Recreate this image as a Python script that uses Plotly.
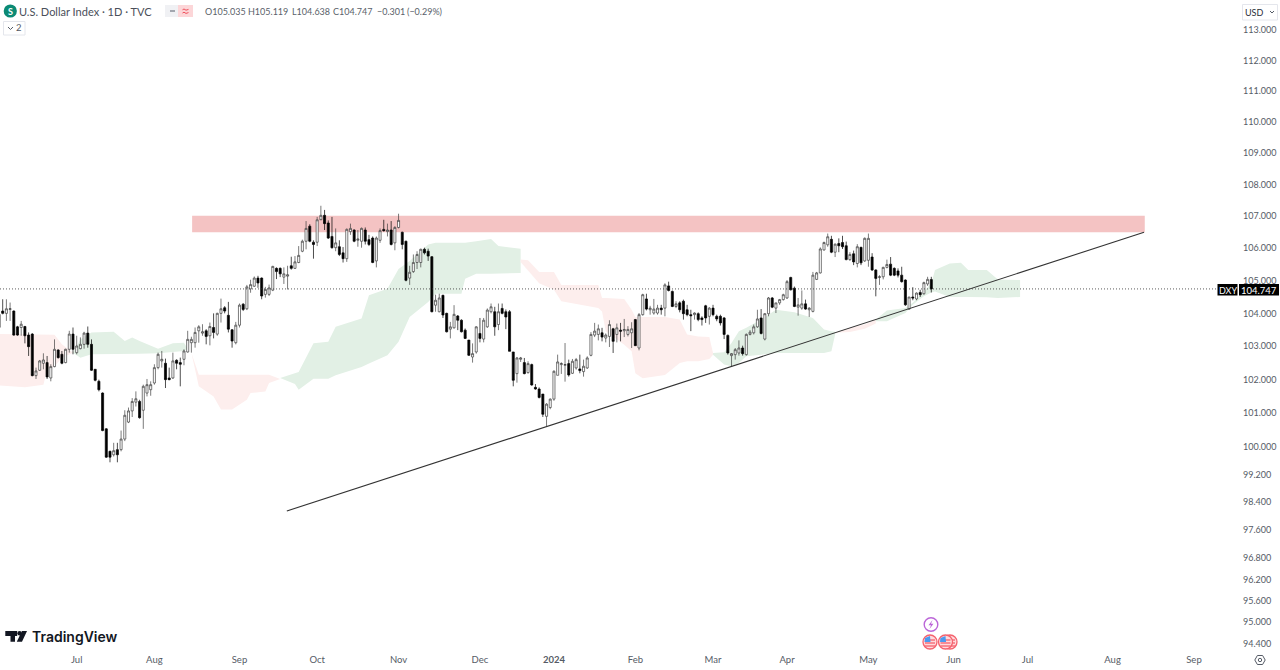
import math
import pandas as pd
import plotly.graph_objects as go

# daily bars, first one is 2 Jun 2023 (partly off the left edge)
opens = [103.97,
    104.07,104.00,104.12,104.07,103.59,103.57,103.60,103.34,103.37,
    102.12,102.28,102.49,102.51,102.05,102.39,102.89,102.76,102.51,102.91,103.37,
    102.81,102.93,103.06,103.40,103.06,102.31,101.95,101.60,100.54,99.88,
    99.78,99.93,99.93,100.24,100.74,101.07,101.33,101.35,101.09,101.60,
    101.70,101.90,102.36,102.56,102.49,102.05,102.05,102.58,102.51,102.61,
    102.83,103.11,103.11,103.47,103.40,103.47,103.32,103.57,103.37,104.00,
    104.17,103.94,103.50,103.11,103.64,104.28,104.14,104.75,104.83,105.08,
    105.08,104.58,104.58,104.71,105.38,105.38,105.11,105.14,105.46,105.38,
    105.56,105.91,106.22,106.69,106.19,106.19,106.89,107.03,106.79,106.37,
    106.02,106.05,105.86,105.68,106.52,106.57,106.25,106.22,106.57,106.27,
    106.32,105.61,106.25,106.59,106.52,106.57,106.17,106.65,106.50,106.22,
    105.08,105.28,105.56,105.56,105.97,105.91,105.74,104.25,104.05,104.55,
    104.00,103.52,103.56,103.92,103.79,103.49,103.19,102.68,102.83,103.39,
    103.22,103.59,104.05,104.05,103.66,104.15,104.05,104.05,102.83,102.18,
    102.61,102.51,102.21,102.45,101.77,101.72,101.57,100.91,101.17,101.42,
    102.13,102.45,102.43,102.48,102.19,102.35,102.32,102.24,102.35,102.73,
    103.34,103.36,103.41,103.25,103.30,103.53,103.36,103.49,103.47,103.36,
    103.41,103.81,102.95,103.96,104.44,104.11,104.01,104.01,104.16,104.16,
    104.84,104.67,104.21,104.32,104.37,104.11,103.96,103.96,103.99,103.86,
    104.23,103.91,104.16,103.91,103.91,103.86,103.33,102.72,102.75,102.80,
    102.95,102.75,103.36,103.41,103.59,103.86,103.22,103.99,104.47,104.16,
    104.32,104.42,104.47,105.10,104.77,104.19,104.16,104.29,104.11,104.06,
    105.04,105.24,105.95,106.11,106.28,105.88,106.15,106.18,106.08,105.65,
    105.83,105.53,106.03,105.61,105.63,105.73,105.33,105.10,105.12,105.41,
    105.51,105.38,105.30,105.17,105.02,104.13,104.50,104.44,104.64,104.60,
    104.90,105.035]
highs = [104.02,
    104.43,104.43,104.33,104.09,103.62,103.77,103.62,103.42,103.40,
    102.36,102.59,102.79,102.71,102.46,103.21,102.91,102.86,102.93,103.47,103.57,
    103.32,103.27,103.44,103.60,103.21,102.31,102.00,101.62,100.56,99.90,
    100.13,100.13,100.49,101.09,101.17,101.45,101.65,101.40,101.85,102.02,
    101.95,102.46,102.81,102.86,102.63,102.36,102.81,102.61,102.66,102.91,
    103.47,103.29,103.57,103.64,103.67,103.52,103.72,104.00,104.02,104.45,
    104.22,104.35,103.52,103.74,104.30,104.31,104.87,105.03,105.13,105.15,
    105.10,104.81,104.88,105.46,105.41,105.41,105.41,105.46,105.74,105.76,
    106.07,106.27,106.85,106.75,106.25,106.98,107.33,107.20,106.87,106.98,
    106.62,106.25,106.04,106.62,106.77,106.59,106.57,106.65,106.65,106.42,
    106.37,106.37,106.62,106.89,106.77,106.85,106.69,107.08,106.52,106.24,
    105.46,105.81,105.91,105.99,106.02,105.99,105.76,104.57,104.60,104.57,
    104.02,103.74,104.25,103.95,103.82,103.54,103.19,103.09,103.61,103.86,
    103.86,104.15,104.30,104.20,104.30,104.30,104.12,104.10,102.83,102.68,
    102.68,102.65,102.55,102.48,101.87,101.77,101.57,101.30,101.44,102.28,
    102.75,102.52,103.10,102.60,102.62,102.65,102.75,102.60,102.70,103.43,
    103.71,103.66,103.56,103.39,103.79,103.56,103.69,103.71,103.83,103.61,
    103.73,103.83,104.01,104.60,104.60,104.23,104.44,104.26,104.26,104.92,
    104.97,104.70,104.37,104.37,104.42,104.26,104.11,104.03,104.03,103.91,
    104.26,104.19,104.26,103.96,103.96,103.89,103.36,102.80,102.95,103.18,
    103.02,103.39,103.49,103.66,104.11,104.13,104.01,104.50,104.50,104.32,
    104.44,104.60,105.02,105.12,104.82,104.47,104.70,104.42,104.19,105.27,
    105.27,106.03,106.21,106.46,106.39,106.15,106.31,106.39,106.21,105.88,
    105.93,106.13,106.05,106.34,106.46,105.85,105.35,105.17,105.43,105.65,
    105.73,105.41,105.38,105.43,105.04,104.50,104.80,104.64,104.72,104.97,
    105.12,105.119]
lows = [103.54,
    103.97,103.77,103.77,103.32,103.32,103.32,103.09,102.71,102.10,
    102.02,102.26,102.31,102.02,101.95,102.37,102.63,102.46,102.49,102.81,102.76,
    102.76,102.91,102.93,102.96,102.26,101.95,101.65,100.47,99.69,99.56,
    99.73,99.56,99.88,100.18,100.71,100.89,101.20,100.84,100.54,101.50,
    101.52,101.85,102.31,102.36,101.75,101.98,102.02,102.31,101.80,102.43,
    102.81,102.81,102.96,103.11,103.32,103.06,103.03,103.24,103.32,103.72,
    104.00,103.42,102.96,103.06,103.57,104.07,104.10,104.63,104.81,104.78,
    104.43,104.48,104.53,104.68,105.05,105.11,104.90,104.73,105.34,105.36,
    105.54,105.88,105.97,106.19,105.68,106.07,106.92,106.57,106.29,105.99,
    105.91,105.76,105.56,105.58,106.42,106.19,106.05,106.02,106.12,106.07,
    105.54,105.41,106.17,106.52,106.37,106.09,105.94,106.62,105.97,104.98,
    104.87,105.24,105.36,105.41,105.81,105.61,104.03,104.05,104.03,103.86,
    103.42,103.24,103.54,103.49,103.42,103.22,102.71,102.51,102.78,103.12,
    103.12,103.56,104.00,103.32,103.49,103.97,103.52,102.85,101.80,101.91,
    102.53,102.16,102.18,101.82,101.70,101.44,100.89,100.61,101.12,101.37,
    102.13,102.17,101.94,102.09,102.17,102.30,102.19,102.09,102.32,102.70,
    103.28,103.18,103.15,103.12,102.98,102.80,103.12,103.15,103.28,103.30,
    102.95,103.02,102.88,103.93,104.09,103.96,103.96,103.96,103.96,103.91,
    104.67,104.19,104.16,104.03,103.81,103.91,103.46,103.81,103.76,103.63,
    103.71,103.66,103.91,103.76,103.63,103.22,102.75,102.38,102.60,102.72,
    102.72,102.72,103.33,103.36,103.56,103.36,103.18,103.91,104.16,104.01,
    104.26,104.39,104.44,104.70,104.19,103.93,104.11,104.11,103.89,104.03,
    105.02,105.22,105.93,106.05,105.85,105.73,105.88,105.98,105.63,105.61,
    105.48,105.41,105.48,105.58,105.43,105.30,104.52,104.87,105.04,105.38,
    105.14,105.14,105.10,104.94,104.23,104.11,104.40,104.40,104.50,104.57,
    104.84,104.638]
closes = [103.57,
    104.00,104.14,104.14,103.34,103.34,103.67,103.32,102.99,102.12,
    102.26,102.56,102.59,102.08,102.39,102.91,102.66,102.49,102.91,103.37,102.91,
    103.01,103.06,103.40,103.06,102.28,101.98,101.70,100.49,99.71,99.71,
    99.90,99.78,100.24,100.94,101.07,101.35,101.43,100.87,101.80,101.85,
    101.85,102.36,102.76,102.61,102.00,102.00,102.56,102.49,102.46,102.86,
    103.21,103.21,103.42,103.59,103.44,103.30,103.60,103.42,104.00,104.14,
    104.07,103.52,103.16,103.64,104.25,104.12,104.81,104.88,105.08,104.93,
    104.53,104.73,104.78,105.44,105.28,105.21,105.21,105.18,105.38,105.58,
    105.78,106.22,106.62,106.22,106.12,106.89,107.03,106.77,106.32,106.02,
    106.17,105.81,105.68,106.59,106.62,106.22,106.29,106.62,106.22,106.12,
    105.56,106.32,106.55,106.55,106.57,106.12,106.65,106.87,106.12,105.01,
    105.26,105.56,105.81,105.97,105.86,105.76,104.05,104.40,104.47,103.95,
    103.44,103.59,103.97,103.79,103.44,103.24,102.73,102.78,103.59,103.24,
    103.79,104.10,104.20,103.59,104.05,104.00,103.89,102.85,101.98,102.65,
    102.65,102.18,102.48,101.84,101.72,101.47,100.97,101.27,101.42,102.25,
    102.53,102.48,102.45,102.14,102.55,102.60,102.27,102.40,102.65,103.36,
    103.46,103.53,103.28,103.34,103.66,103.15,103.56,103.46,103.51,103.51,
    103.53,103.02,103.96,104.57,104.13,104.16,104.13,104.16,104.11,104.87,
    104.70,104.21,104.29,104.11,103.99,103.96,103.93,104.01,103.81,103.81,
    103.86,104.16,103.96,103.83,103.71,103.36,102.80,102.78,102.90,102.95,
    102.78,103.36,103.43,103.59,103.83,103.39,103.99,104.47,104.19,104.32,
    104.42,104.57,104.97,104.72,104.21,104.26,104.29,104.13,104.16,105.17,
    105.24,105.98,106.18,106.36,105.88,106.13,106.08,106.05,105.65,105.81,
    105.58,106.05,105.55,106.31,106.31,105.33,105.07,105.12,105.41,105.50,
    105.17,105.17,105.17,104.97,104.26,104.50,104.47,104.62,104.57,104.94,
    105.04,104.747]
assert len(opens) == len(highs) == len(lows) == len(closes)

# ichimoku cloud pieces: bar number, upper edge, lower edge
red1_bars = [-1,6,11,12,14,16,19]
red1_top = [103.37,103.37,103.37,103.37,103.35,103.06,102.81]
red1_bot = [101.83,101.77,101.85,102.31,102.39,102.66,102.81]
green1_bars = [19,21,24,30,33,35,37,42,46,49,50]
green1_top = [102.81,103.21,103.42,103.44,103.16,103.27,103.16,102.93,103.09,103.11,102.93]
green1_bot = [102.81,102.66,102.76,102.78,102.78,102.78,102.78,102.79,102.83,102.86,102.93]
red2_bars = [51,53,57,59,62,66,67,71,72,75]
red2_top = [102.81,102.15,102.15,102.15,102.15,102.15,102.15,102.15,102.15,102.02]
red2_bot = [102.81,101.80,101.50,101.11,101.11,101.40,101.60,101.65,101.90,102.02]
green2_bars = [75,79,80,84,88,90,97,99,104,107,110,115,117,124,125,128,132,134,140]
green2_top = [102.05,102.21,102.23,103.09,103.14,103.59,103.84,104.55,104.75,105.36,105.61,106.12,106.17,106.17,106.17,106.22,106.29,106.07,105.99]
green2_bot = [102.05,101.87,101.70,102.03,102.03,102.13,102.38,102.48,102.73,103.14,103.89,104.35,104.60,104.60,105.06,105.21,105.21,105.21,105.24]
red3_bars = [140,142,145,149,151,161,162,163,168,170,171,173,179,183,185,188,191,192]
red3_top = [105.65,105.63,105.27,105.27,104.87,104.87,104.47,104.47,104.44,104.11,103.89,103.89,103.89,103.81,103.36,103.30,103.28,102.80]
red3_bot = [105.58,105.33,104.92,104.72,104.37,104.16,104.06,103.46,103.05,102.85,102.19,102.04,102.14,102.50,102.55,102.55,102.62,102.75]
green3_bars = [192,195,197,199,201,205,209,214,219,222,224,225]
green3_top = [102.80,102.82,103.10,103.46,103.56,103.81,104.11,104.03,103.86,103.51,103.46,103.44]
green3_bot = [102.75,102.45,102.40,102.50,102.70,102.75,102.80,102.80,102.80,102.80,102.85,103.36]
red4_bars = [225,229,233,236]
red4_top = [103.41,103.56,103.66,103.81]
red4_bot = [103.41,103.43,103.53,103.69]
green4_bars = [236,239,244,246,249,251,252,256,259,261,266,269,275]
green4_top = [103.81,104.09,104.16,104.32,104.67,104.92,105.33,105.53,105.55,105.33,105.33,105.04,105.02]
green4_bot = [103.76,103.76,104.01,104.26,104.52,104.64,104.67,104.50,104.50,104.50,104.49,104.47,104.50]

# drawings
trend_bars = [76.8, 308.5]
trend_prices = [98.15, 106.50]
zone_bars = [51.2, 308.7]
zone_prices = [106.50, 107.02]
last_close = 104.747

price_ticks = [113,112,111,110,109,108,107,106,105,104,103,102,101,100,99.2,98.4,97.6,96.8,96.2,95.6,95,94.4]
closed_days = ["2023-12-25","2024-01-01","2024-03-29"]
month_labels = ["Jul","Aug","Sep","Oct","Nov","Dec","<b>2024</b>","Feb","Mar","Apr","May","Jun","Jul","Aug","Sep"]

days = pd.bdate_range("2023-06-02", "2024-09-30").difference(pd.to_datetime(closed_days))
day_bars = pd.Series(range(-1, len(days) - 1), index=days)
month_firsts = day_bars.groupby([days.year, days.month]).first().iloc[1:]
bars = list(range(-1, len(opens) - 1))

W, H = 1280, 670
RIGHT, BOTTOM = 42, 18
PW, PH = W - RIGHT, H - BOTTOM
X_RANGE = [-0.73, 333.9]
Y_RANGE = [1.97395, 2.05690]
FONT = "Lato"
GRAY = "#555b66"

def xp(px):
    return px / PW

def yp(py):
    return 1 - py / PH

def poly(points, close=True):
    path = "M " + " L ".join(f"{xp(x):.5f},{yp(y):.5f}" for x, y in points)
    return path + (" Z" if close else "")

def cloud(x, top, bot, color):
    return go.Scatter(x=x + x[::-1], y=top + bot[::-1], mode="lines", fill="toself",
                      fillcolor=color, line=dict(width=0), hoverinfo="skip")

GREEN = "#e2f0e5"
RED = "#fdeeed"
fig = go.Figure()
fig.add_trace(cloud(red1_bars, red1_top, red1_bot, RED))
fig.add_trace(cloud(green1_bars, green1_top, green1_bot, GREEN))
fig.add_trace(cloud(red2_bars, red2_top, red2_bot, RED))
fig.add_trace(cloud(green2_bars, green2_top, green2_bot, GREEN))
fig.add_trace(cloud(red3_bars, red3_top, red3_bot, RED))
fig.add_trace(cloud(green3_bars, green3_top, green3_bot, GREEN))
fig.add_trace(cloud(red4_bars, red4_top, red4_bot, RED))
fig.add_trace(cloud(green4_bars, green4_top, green4_bot, GREEN))

# candles sit on overlay axes so they draw over the cloud
fig.add_trace(go.Candlestick(
    x=bars, open=opens, high=highs, low=lows, close=closes, xaxis="x2", yaxis="y2",
    increasing=dict(line=dict(color="#333333", width=0.65), fillcolor="#ffffff"),
    decreasing=dict(line=dict(color="#000000", width=0.7), fillcolor="#000000"),
    whiskerwidth=0,
))
fig.add_trace(go.Scatter(x=trend_bars, y=trend_prices, mode="lines", xaxis="x2", yaxis="y2",
                         line=dict(color="#333333", width=1.1), hoverinfo="skip"))

# red resistance zone, price line
fig.add_shape(type="rect", xref="x", yref="y", x0=zone_bars[0], x1=zone_bars[1],
              y0=zone_prices[0], y1=zone_prices[1],
              fillcolor="#f4c3c3", line=dict(width=0), layer="below")
fig.add_shape(type="line", xref="paper", yref="y", x0=0, x1=xp(1218),
              y0=last_close, y1=last_close,
              line=dict(color="#333333", width=0.8, dash="1px,2px"))

def rect(x0, y0, x1, y1, fill, line=None):
    fig.add_shape(type="rect", xref="paper", yref="paper", x0=xp(x0), x1=xp(x1), y0=yp(y0), y1=yp(y1),
                  fillcolor=fill, line=dict(color=line or fill, width=1 if line else 0))

def circle(cx, cy, r, fill, line=None, width=1.2):
    fig.add_shape(type="circle", xref="paper", yref="paper", x0=xp(cx - r), x1=xp(cx + r), y0=yp(cy - r), y1=yp(cy + r),
                  fillcolor=fill, line=dict(color=line or fill, width=width if line else 0))

def path(points, fill=None, line=None, width=1, close=True):
    fig.add_shape(type="path", xref="paper", yref="paper", path=poly(points, close),
                  fillcolor=fill or "rgba(0,0,0,0)", line=dict(color=line or "rgba(0,0,0,0)", width=width))

def label(x, y, text, size=9.5, color=GRAY, anchor="left", family=FONT, weight=None):
    fig.add_annotation(xref="paper", yref="paper", x=xp(x), y=yp(y), text=text, showarrow=False,
                       xanchor=anchor, yanchor="middle", align=anchor,
                       font=dict(family=family, size=size, color=color, weight=weight),
                       borderpad=0, borderwidth=0)

# legend row
circle(10.3, 11, 6.6, "#0b8a74")
label(10.3, 11, "S", size=9, color="#ffffff", anchor="center", weight="bold")
label(19, 11, "U.S. Dollar Index · 1D · TVC", size=11, color="#4a4f5a")
rect(165, 5, 178, 17, "#f0f1f4")
rect(178, 5, 193, 17, "#fcd6d8")
path([(170, 11), (175, 11)], line="#8a8e99", width=1.5, close=False)
path([(182.5, 9.8), (184, 9), (186, 10.2), (188.5, 9.4)], line="#f0505c", width=1, close=False)
path([(182.5, 13), (184, 12.2), (186, 13.4), (188.5, 12.6)], line="#f0505c", width=1, close=False)
for x, text in [(205, "O105.035"), (248, "H105.119"), (292, "L104.638"), (333, "C104.747"),
                (377, "−0.301"), (407, "(−0.29%)")]:
    label(x, 11, text, size=9, color="#5a5f6a")
rect(3.5, 21.5, 25, 35, "#ffffff", "#e4e6ec")
path([(8, 27), (10.5, 29.5), (13, 27)], line="#555b66", close=False)
label(19, 28, "2", size=9.5, color="#555b66", anchor="center")

# currency box, last price tags
rect(1242.5, 4.5, 1277.5, 20, "#ffffff", "#e4e6ec")
label(1245, 12, "USD", size=9, color="#2a2e39")
path([(1270, 11), (1272, 13), (1274, 11)], line="#555b66", close=False)
rect(1217.5, 284, 1237.5, 295.5, "#000000")
rect(1239, 284, 1279, 295.5, "#000000")
label(1227.5, 290, "DXY", size=9, color="#ffffff", anchor="center")
label(1259, 290, "104.747", size=9.5, color="#ffffff", anchor="center")

# TradingView logo
path([(5.3, 631), (17.2, 631), (17.2, 636), (15, 636), (15, 641.8), (10.5, 641.8), (10.5, 636), (5.3, 636)], fill="#131722")
circle(19.6, 633.2, 2.2, "#131722")
path([(22, 631), (27, 631), (22, 641.8), (16.8, 641.8)], fill="#131722")
label(31.5, 636.5, "TradingView", size=14, color="#131722", family="Inter", weight=600)

# event markers
circle(931, 624.5, 6.8, "#ffffff", "#bb66d8", 1.4)
path([(932.5, 620), (928.5, 625.2), (931, 625.2), (929.5, 629), (933.5, 623.8), (931, 623.8)], fill="#bb66d8")
for cx in [950, 945.5, 930]:
    circle(cx, 642, 7, "#ffd9dc", "#f4626e", 1.3)
    for dy in [-2, 1, 4]:
        path([(cx - 5, 642 + dy), (cx + 5, 642 + dy)], line="#f4626e", width=1.3, close=False)
    path([(cx - 5, 638), (cx, 636), (cx + 0.5, 642), (cx - 5.5, 642)], fill="#4a9af0")

# settings icon
path([(1260 + 5.2 * math.cos(a * math.pi / 3), 660 + 5.2 * math.sin(a * math.pi / 3)) for a in range(6)], line="#555b66")
circle(1260, 660, 1.7, "#ffffff", "#555b66", 1)

fig.update_layout(
    width=W, height=H, showlegend=False, plot_bgcolor="#ffffff", paper_bgcolor="#ffffff",
    margin=dict(l=0, r=RIGHT, t=0, b=BOTTOM, pad=0), boxgap=0.2, hovermode=False,
    font=dict(family=FONT, size=9.5, color=GRAY),
    xaxis=dict(range=X_RANGE, rangeslider=dict(visible=False), showgrid=False, zeroline=False,
               showline=False, ticks="", tickvals=list(month_firsts.values), ticktext=month_labels,
               tickangle=0, tickfont=dict(size=9.5, color=GRAY)),
    yaxis=dict(type="log", side="right", range=Y_RANGE, showgrid=False, zeroline=False,
               showline=False, ticks="", tickvals=price_ticks, tickformat=".3f", ticklabelstandoff=4,
               ticklabelposition="outside", tickfont=dict(size=9, color=GRAY)),
    xaxis2=dict(range=X_RANGE, overlaying="x", visible=False, rangeslider=dict(visible=False)),
    yaxis2=dict(type="log", range=Y_RANGE, overlaying="y", side="right", visible=False),
)

fig.write_html("out.html", config=dict(displayModeBar=False),
               post_script="document.body.style.margin='0';document.body.style.overflow='hidden';")
